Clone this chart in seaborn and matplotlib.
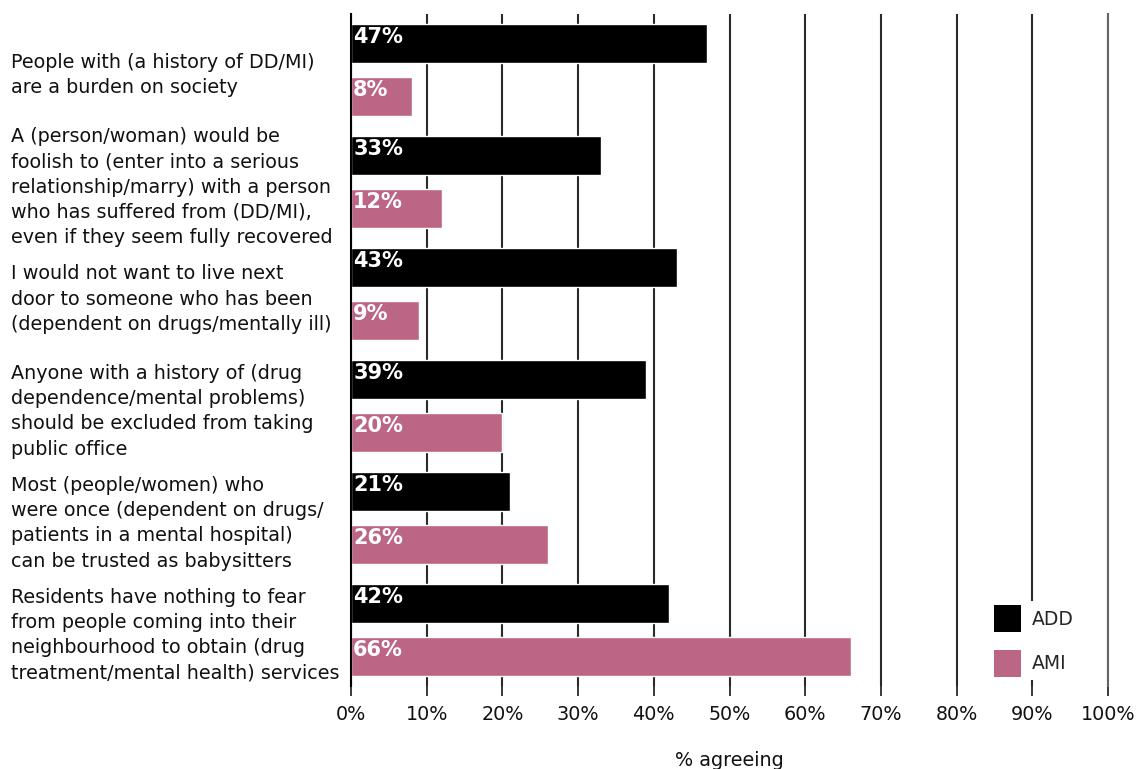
import matplotlib
matplotlib.use("Agg")
import matplotlib.pyplot as plt
import seaborn as sns
import pandas as pd
from matplotlib.patches import Patch

# Survey statements (row labels, top to bottom)
statements = [
    "People with (a history of DD/MI)\nare a burden on society",
    "A (person/woman) would be\nfoolish to (enter into a serious\nrelationship/marry) with a person\nwho has suffered from (DD/MI),\neven if they seem fully recovered",
    "I would not want to live next\ndoor to someone who has been\n(dependent on drugs/mentally ill)",
    "Anyone with a history of (drug\ndependence/mental problems)\nshould be excluded from taking\npublic office",
    "Most (people/women) who\nwere once (dependent on drugs/\npatients in a mental hospital)\ncan be trusted as babysitters",
    "Residents have nothing to fear\nfrom people coming into their\nneighbourhood to obtain (drug\ntreatment/mental health) services",
]
add_pct = [47, 33, 43, 39, 21, 42]
ami_pct = [8, 12, 9, 20, 26, 66]
groups = ["ADD", "AMI"]
x_ticks = [0, 10, 20, 30, 40, 50, 60, 70, 80, 90, 100]

colors = {"ADD": "#000000", "AMI": "#bc6686"}
FS = 13.8

df = pd.DataFrame({
    "statement": statements * 2,
    "pct": add_pct + ami_pct,
    "group": ["ADD"] * len(statements) + ["AMI"] * len(statements),
})

sns.set_style("white")
plt.rcParams["font.family"] = ["DejaVu Sans"]

fig = plt.figure(figsize=(11.4, 7.69), dpi=100)
ax = fig.add_axes([351 / 1140, 1 - 686 / 769, (1108 - 351) / 1140, (686 - 14) / 769])

sns.barplot(
    data=df, y="statement", x="pct", hue="group", order=statements,
    hue_order=groups, palette=colors, orient="h", width=0.95, gap=0.28,
    saturation=1, errorbar=None, legend=False, ax=ax,
)

ax.set_xlim(0, 100)
ax.set_ylim(5.5, -0.5)
ax.set_xticks(x_ticks)
ax.set_xticklabels([f"{t}%" for t in x_ticks], fontsize=FS, color="#111111")
ax.set_xlabel("% agreeing", fontsize=FS, labelpad=19, color="#111111")
ax.set_ylabel("")

# Vertical gridlines behind the bars
ax.set_axisbelow(True)
ax.grid(axis="x", color="#2a2a2a", linewidth=1.5)
ax.grid(axis="y", visible=False)
ax.tick_params(axis="x", direction="out", length=7, width=1.3, color="#2a2a2a", pad=7, bottom=True)

# Left-aligned statement labels at the far left of the figure
ax.tick_params(axis="y", length=0, pad=244.8)
for lab in ax.get_yticklabels():
    lab.set_horizontalalignment("left")
    lab.set_fontsize(FS)
    lab.set_color("#111111")
    lab.set_linespacing(1.42)

for side in ["top", "bottom"]:
    ax.spines[side].set_visible(False)
ax.spines["left"].set_color("#000000")
ax.spines["left"].set_linewidth(1.5)
ax.spines["right"].set_color("#666666")
ax.spines["right"].set_linewidth(1.5)

# Value labels inside each bar, near its left edge
for container in ax.containers:
    for patch, val in zip(container.patches, container.datavalues):
        ax.annotate(
            f"{val:.0f}%", xy=(0, patch.get_y()), xytext=(1.5, -2),
            textcoords="offset points", ha="left", va="top",
            color="white", fontsize=15, fontweight="bold",
        )

handles = [Patch(facecolor=colors[g], edgecolor="none") for g in groups]
leg = ax.legend(
    handles, groups, loc="upper left", bbox_to_anchor=(981 / 1140, 1 - 592 / 769),
    bbox_transform=fig.transFigure, fontsize=13.5, frameon=True, framealpha=1,
    facecolor="white", edgecolor="none", handlelength=1.44, handleheight=1.84,
    handletextpad=0.55, labelspacing=0.93, borderpad=0.2, fancybox=False,
)

fig.savefig("out.png", dpi=100)
